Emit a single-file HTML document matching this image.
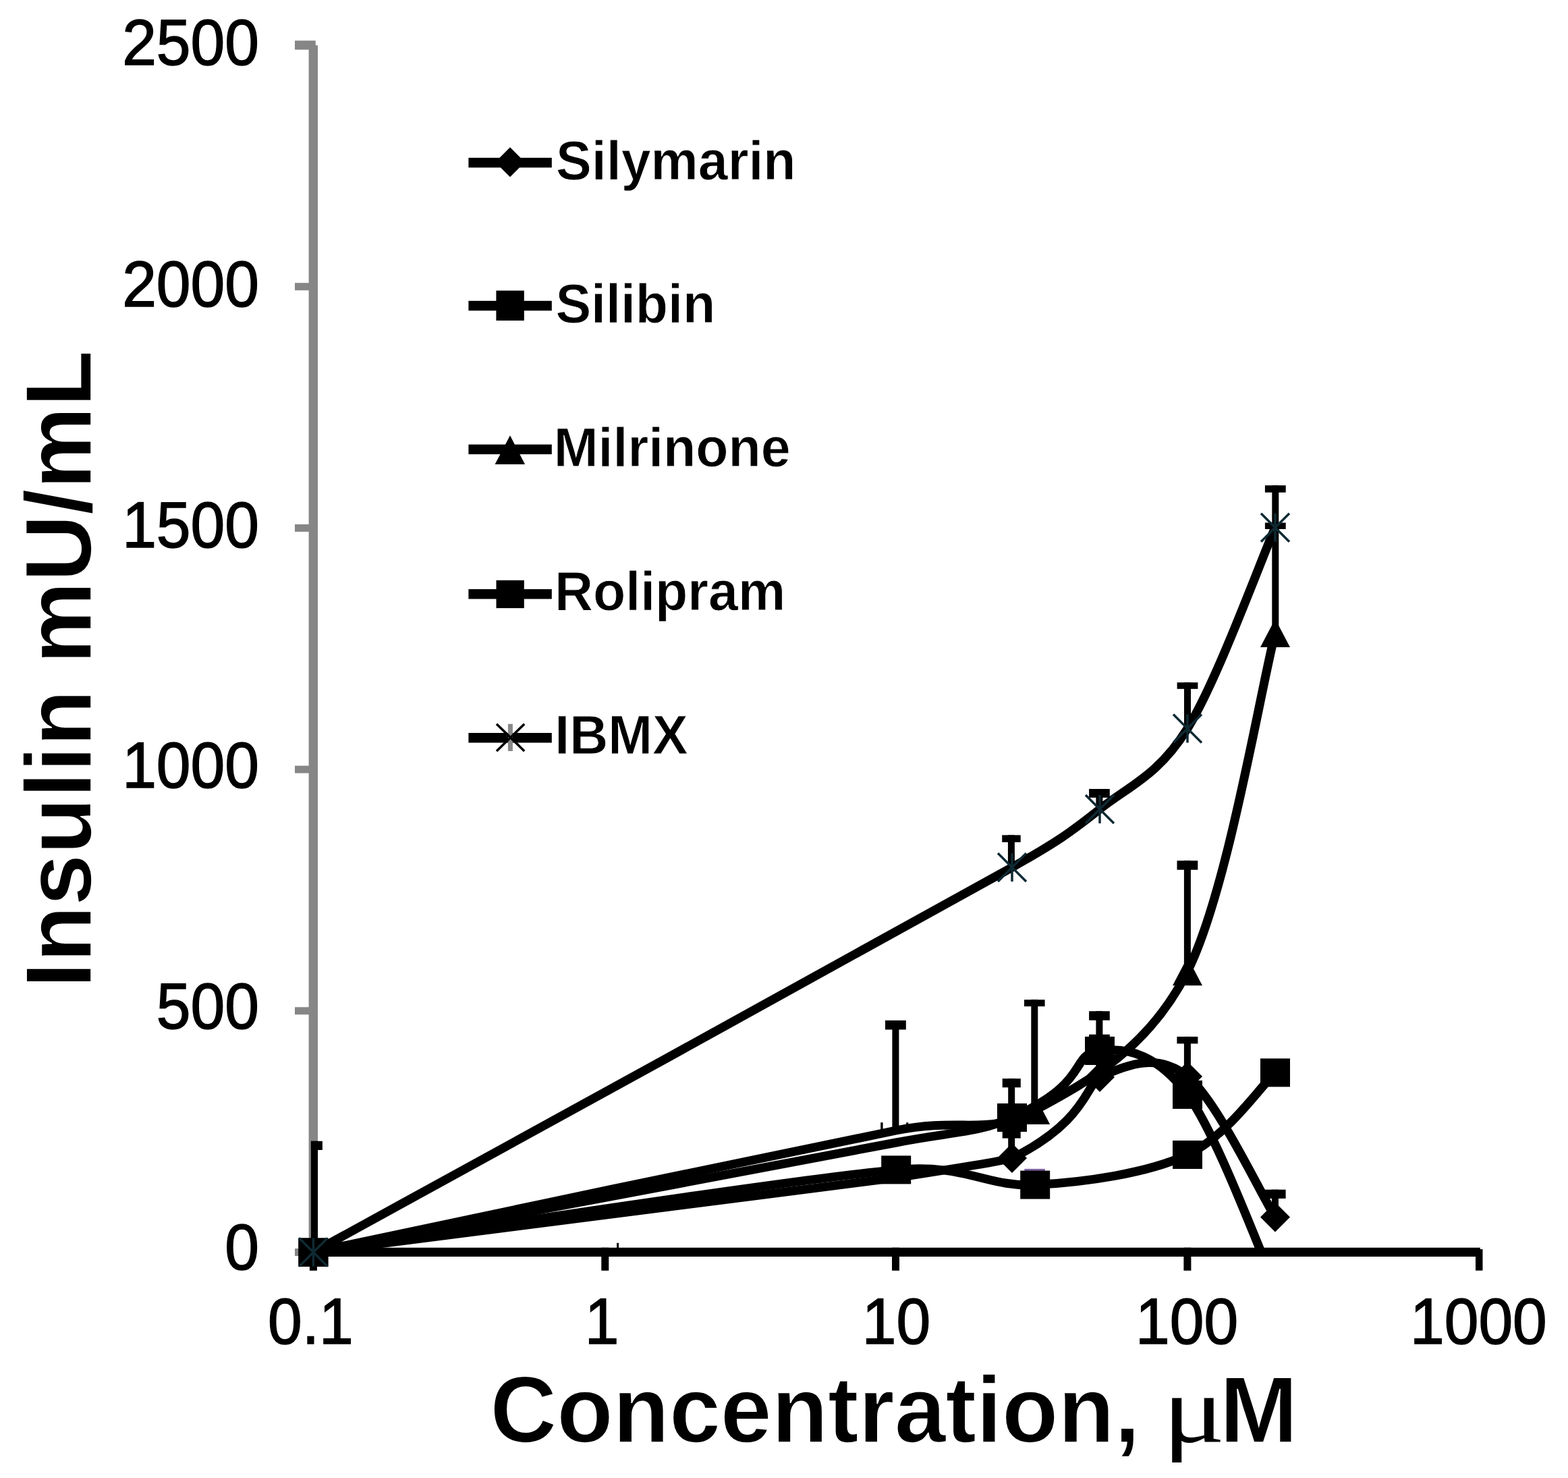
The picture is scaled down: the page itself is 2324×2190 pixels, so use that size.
<!DOCTYPE html>
<html><head><meta charset="utf-8"><title>Insulin vs Concentration</title><style>
html,body{margin:0;padding:0;background:#fff;}svg{display:block;}
</style></head><body>
<svg width="2324" height="2190" viewBox="0 0 2324 2190">
<rect width="2324" height="2190" fill="#fff"/>
<g font-family="'Liberation Sans', Arial, sans-serif" font-size="96" fill="#000" stroke="#000" stroke-width="1.6" text-anchor="end">
<text transform="translate(384.0,96.4) scale(0.95,1)">2500</text>
<text transform="translate(384.0,453.5) scale(0.95,1)">2000</text>
<text transform="translate(384.0,810.6) scale(0.95,1)">1500</text>
<text transform="translate(384.0,1167.4) scale(0.95,1)">1000</text>
<text transform="translate(384.0,1524.3) scale(0.95,1)">500</text>
<text transform="translate(384.0,1881.1) scale(0.95,1)">0</text>
</g>
<g font-family="'Liberation Sans', Arial, sans-serif" font-size="96" fill="#000" stroke="#000" stroke-width="1.6" text-anchor="middle">
<text transform="translate(460.3,1991.2) scale(0.95,1)">0.1</text>
<text transform="translate(892.0,1991.2) scale(0.95,1)">1</text>
<text transform="translate(1328.4,1991.2) scale(0.95,1)">10</text>
<text transform="translate(1759.2,1991.2) scale(0.95,1)">100</text>
<text transform="translate(2191.4,1991.2) scale(0.95,1)">1000</text>
</g>
<text transform="translate(135,1463.9) rotate(-90) scale(0.987,1)" font-family="'Liberation Sans', Arial, sans-serif" font-weight="bold" font-size="139" fill="#000" stroke="#fff" stroke-width="1.6">Insulin mU/mL</text>
<text transform="translate(726.6,2136.5) scale(0.982,1)" font-family="'Liberation Sans', Arial, sans-serif" font-weight="bold" font-size="139" fill="#000" stroke="#fff" stroke-width="1.6">Concentration,</text>
<text transform="translate(1723.2,2137.2) scale(1.222,1)" font-family="'Liberation Serif', serif" font-size="141.2" fill="#000">μ</text>
<text x="1807.8" y="2136.5" font-family="'Liberation Sans', Arial, sans-serif" font-weight="bold" font-size="139" fill="#000" stroke="#fff" stroke-width="1.6">M</text>
<g fill="#868686">
<rect x="457.6" y="67.2" width="13.4" height="1795"/>
<rect x="437" y="60.2" width="30.8" height="13.4"/>
<rect x="437" y="419.2" width="30" height="11"/>
<rect x="437" y="776.9" width="30" height="11"/>
<rect x="437" y="1134.6" width="30" height="11"/>
<rect x="437" y="1492.3" width="30" height="11"/>
<rect x="437" y="1850.0" width="30" height="11"/>
</g>
<g fill="#000">
<rect x="457.6" y="1848.7" width="1736.3" height="13.3"/>
<rect x="458.9" y="1848.7" width="11" height="34"/>
<rect x="891.3" y="1848.7" width="11" height="34"/>
<rect x="1322.0" y="1848.7" width="11" height="34"/>
<rect x="1754.4" y="1848.7" width="11" height="34"/>
<rect x="2187" y="1851" width="10.5" height="31.6"/>
<rect x="914.1" y="1841.7" width="3" height="8"/>
</g>
<g fill="none" stroke="#000" stroke-width="13" stroke-linejoin="round">
<clipPath id="pa"><rect x="440" y="40" width="1800" height="1815.5"/></clipPath>
<path clip-path="url(#pa)" d="M464.4,1855.5 C637.0,1760.5 1305.7,1394.6 1500.0,1285.2 C1568.0,1246.9 1586.7,1233.3 1630.0,1199.0 C1673.3,1164.7 1716.7,1149.0 1760.0,1079.5 C1803.3,1010.0 1868.3,831.3 1890.0,781.7"/>
<path clip-path="url(#pa)" d="M464.4,1855.5 C608.4,1825.4 1149.9,1710.1 1328.2,1675.0 C1430.3,1654.9 1462.2,1684.3 1534.2,1645.0 C1606.2,1605.7 1700.7,1557.1 1760.0,1439.3 C1819.3,1321.5 1868.3,1021.5 1890.0,938.0"/>
<path clip-path="url(#pa)" d="M464.4,1855.5 C608.4,1828.4 1155.6,1726.2 1328.2,1693.0 C1414.5,1676.4 1449.7,1678.7 1500.0,1656.0 C1620.7,1601.6 1583.2,1563.1 1630.0,1557.0 C1673.3,1551.3 1716.7,1564.0 1760.0,1622.0 C1803.3,1680.0 1868.3,1857.8 1890.0,1905.0"/>
<path clip-path="url(#pa)" d="M464.4,1855.5 C464.4,1855.5 1328.2,1745.1 1328.2,1745.1 C1328.2,1745.1 1493.0,1719.5 1500.0,1716.0 C1610.8,1661.3 1610.7,1605.0 1630.0,1596.0 C1673.3,1575.8 1716.7,1560.4 1760.0,1595.0 C1803.3,1629.6 1868.3,1768.7 1890.0,1803.4"/>
<path clip-path="url(#pa)" d="M464.4,1855.5 C608.4,1835.2 1149.9,1750.1 1328.2,1733.4 C1431.3,1723.8 1462.2,1759.3 1534.2,1755.6 C1606.2,1751.9 1700.7,1738.7 1760.0,1711.0 C1819.3,1683.3 1868.3,1609.7 1890.0,1589.4"/>
</g>
<g>
<rect x="1493.9" y="1237.4" width="10.0" height="47.6" fill="#000"/><rect x="1485.2" y="1237.4" width="27.5" height="10.5" fill="#000"/>
<rect x="1624.4" y="1169.0" width="10.0" height="30.0" fill="#000"/><rect x="1614.1" y="1169.0" width="30.7" height="12.9" fill="#000"/>
<rect x="1755.0" y="1011.2" width="10.0" height="68.3" fill="#000"/><rect x="1744.6" y="1011.2" width="30.8" height="9.6" fill="#000"/>
<rect x="1885.3" y="719.2" width="10.0" height="62.5" fill="#000"/><rect x="1874.9" y="719.2" width="30.8" height="10.5" fill="#000"/>
<rect x="1528.3" y="1481.3" width="10.0" height="163.7" fill="#000"/><rect x="1518.0" y="1481.3" width="30.6" height="9.9" fill="#000"/>
<rect x="1754.9" y="1275.3" width="10.0" height="163.7" fill="#000"/><rect x="1744.5" y="1275.3" width="30.8" height="13.5" fill="#000"/>
<rect x="1885.3" y="774.5" width="10.0" height="163.5" fill="#000"/><rect x="1874.9" y="774.5" width="30.8" height="9.5" fill="#000"/>
<rect x="1322.4" y="1512.0" width="10.0" height="168.0" fill="#000"/><rect x="1312.0" y="1512.0" width="30.8" height="13.6" fill="#000"/>
<rect x="1494.2" y="1598.2" width="10.0" height="57.8" fill="#000"/><rect x="1485.7" y="1598.2" width="27.1" height="13.1" fill="#000"/>
<rect x="1624.4" y="1498.3" width="10.0" height="58.7" fill="#000"/><rect x="1614.1" y="1498.3" width="30.7" height="13.5" fill="#000"/>
<rect x="1754.9" y="1536.1" width="10.0" height="85.9" fill="#000"/><rect x="1744.4" y="1536.1" width="31.0" height="10.3" fill="#000"/>
<rect x="1494.2" y="1676.5" width="10.0" height="41.5" fill="#000"/><rect x="1485.7" y="1676.5" width="27.0" height="10.1" fill="#000"/>
<rect x="1624.4" y="1532.8" width="10.0" height="61.2" fill="#000"/><rect x="1614.1" y="1532.8" width="30.7" height="10.0" fill="#000"/>
<rect x="1884.9" y="1762.7" width="10.0" height="39.3" fill="#000"/><rect x="1874.2" y="1762.7" width="31.4" height="13.2" fill="#000"/>
<rect x="1305.2" y="1663.2" width="3.4" height="12" fill="#000"/>
<rect x="1343.2" y="1663.2" width="3" height="12" fill="#000"/>
<rect x="460.9" y="1690.8" width="10.2" height="160" fill="#000"/>
<rect x="460.9" y="1690.8" width="17" height="13.2" fill="#000"/>
<rect x="1518.3" y="1731.9" width="30.6" height="3.6" fill="#8064a2"/>
</g>
<g>
<path d="M464.4,1834.5 L486.4,1876.5 L442.4,1876.5 Z" fill="#000"/>
<path d="M1534.2,1624.0 L1556.2,1666.0 L1512.2,1666.0 Z" fill="#000"/>
<path d="M1760.0,1418.3 L1782.0,1460.3 L1738.0,1460.3 Z" fill="#000"/>
<path d="M1890.0,917.0 L1912.0,959.0 L1868.0,959.0 Z" fill="#000"/>
<rect x="442.4" y="1834.5" width="44.0" height="42.0" fill="#000"/>
<rect x="1478.0" y="1635.0" width="44.0" height="42.0" fill="#000"/>
<rect x="1608.0" y="1536.0" width="44.0" height="42.0" fill="#000"/>
<rect x="1738.0" y="1601.0" width="44.0" height="42.0" fill="#000"/>
<path d="M464.4,1833.5 L486.4,1855.5 L464.4,1877.5 L442.4,1855.5 Z" fill="#000"/>
<path d="M1500.0,1694.0 L1522.0,1716.0 L1500.0,1738.0 L1478.0,1716.0 Z" fill="#000"/>
<path d="M1630.0,1574.0 L1652.0,1596.0 L1630.0,1618.0 L1608.0,1596.0 Z" fill="#000"/>
<path d="M1760.0,1573.0 L1782.0,1595.0 L1760.0,1617.0 L1738.0,1595.0 Z" fill="#000"/>
<path d="M1890.0,1781.4 L1912.0,1803.4 L1890.0,1825.4 L1868.0,1803.4 Z" fill="#000"/>
<rect x="442.4" y="1834.5" width="44.0" height="42.0" fill="#000"/>
<rect x="1306.2" y="1712.4" width="44.0" height="42.0" fill="#000"/>
<rect x="1512.2" y="1734.6" width="44.0" height="42.0" fill="#000"/>
<rect x="1738.0" y="1690.0" width="44.0" height="42.0" fill="#000"/>
<rect x="1868.0" y="1568.4" width="44.0" height="42.0" fill="#000"/>
<g stroke="#0f2a33" stroke-width="3.5" fill="none"><path d="M443.4,1834.5 L485.4,1876.5 M443.4,1876.5 L485.4,1834.5 M464.4,1834.5 L464.4,1876.5"/></g>
<g stroke="#0f2a33" stroke-width="3.5" fill="none"><path d="M1479.0,1264.2 L1521.0,1306.2 M1479.0,1306.2 L1521.0,1264.2 M1500.0,1264.2 L1500.0,1306.2"/></g>
<g stroke="#0f2a33" stroke-width="3.5" fill="none"><path d="M1609.0,1178.0 L1651.0,1220.0 M1609.0,1220.0 L1651.0,1178.0 M1630.0,1178.0 L1630.0,1220.0"/></g>
<g stroke="#0f2a33" stroke-width="3.5" fill="none"><path d="M1739.0,1058.5 L1781.0,1100.5 M1739.0,1100.5 L1781.0,1058.5 M1760.0,1058.5 L1760.0,1100.5"/></g>
<g stroke="#0f2a33" stroke-width="3.5" fill="none"><path d="M1869.0,760.7 L1911.0,802.7 M1869.0,802.7 L1911.0,760.7 M1890.0,760.7 L1890.0,802.7"/></g>
</g>
<g>
<rect x="694.4" y="233.8" width="123.4" height="14.5" fill="#000"/>
<path d="M756.0,218.3 L778.0,240.3 L756.0,262.3 L734.0,240.3 Z" fill="#000"/>
<text transform="translate(824.1,265.5) scale(0.963,1)" font-family="'Liberation Sans', Arial, sans-serif" font-weight="bold" font-size="82" fill="#000" stroke="#fff" stroke-width="0.9">Silymarin</text>
<rect x="694.4" y="445.8" width="123.4" height="14.5" fill="#000"/>
<rect x="735.4" y="430.6" width="41.4" height="44.4" fill="#000"/>
<text transform="translate(823.4,478.2) scale(0.963,1)" font-family="'Liberation Sans', Arial, sans-serif" font-weight="bold" font-size="82" fill="#000" stroke="#fff" stroke-width="0.9">Silibin</text>
<rect x="694.4" y="658.6" width="123.4" height="14.5" fill="#000"/>
<path d="M756,645.3 L778.1,688 L733.6,688 Z" fill="#000"/>
<text transform="translate(820.8,691.1) scale(0.963,1)" font-family="'Liberation Sans', Arial, sans-serif" font-weight="bold" font-size="82" fill="#000" stroke="#fff" stroke-width="0.9">Milrinone</text>
<rect x="694.4" y="873.0" width="123.4" height="14.5" fill="#000"/>
<rect x="735.5" y="859.8" width="41.3" height="41.3" fill="#000"/>
<text transform="translate(822.0,904.2) scale(0.963,1)" font-family="'Liberation Sans', Arial, sans-serif" font-weight="bold" font-size="82" fill="#000" stroke="#fff" stroke-width="0.9">Rolipram</text>
<rect x="694.4" y="1086.0" width="123.4" height="14.5" fill="#000"/>
<rect x="752.9" y="1072.7" width="7" height="40.2" fill="#888"/>
<g stroke="#000" stroke-width="3.5"><path d="M736,1072.7 L777.2,1112.9 M736,1112.9 L777.2,1072.7"/></g>
<text transform="translate(822.2,1116.5) scale(0.963,1)" font-family="'Liberation Sans', Arial, sans-serif" font-weight="bold" font-size="82" fill="#000" stroke="#fff" stroke-width="0.9">IBMX</text>
</g>
</svg></body></html>
